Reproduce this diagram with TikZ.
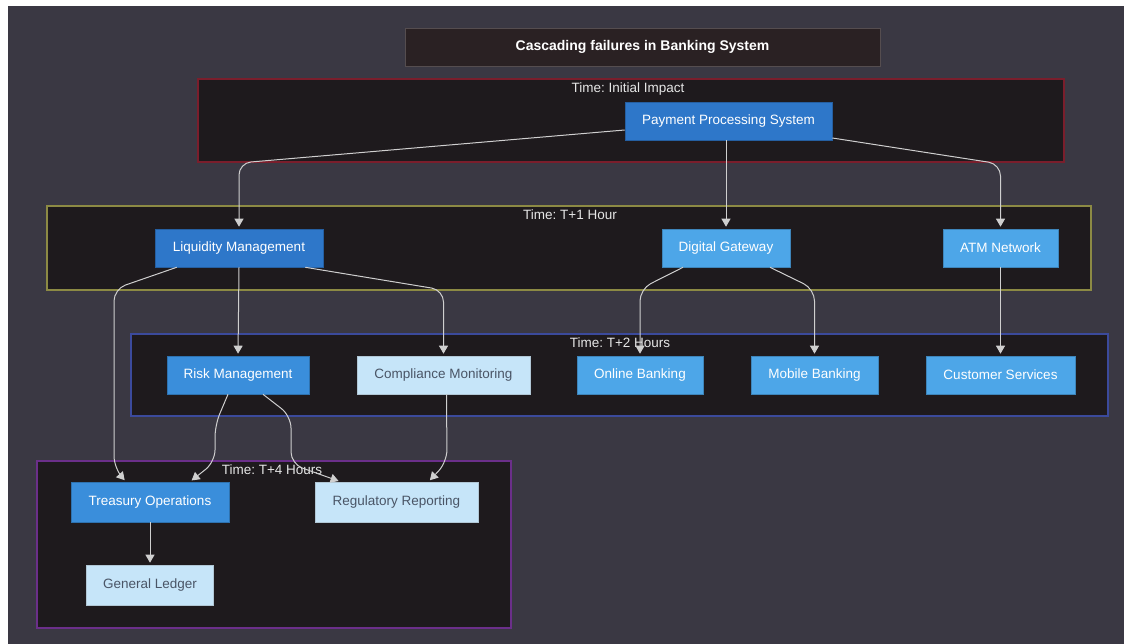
\documentclass[tikz,border=0pt]{standalone}
\usepackage{fontspec}
\setmainfont{Liberation Sans}
\frenchspacing
\usetikzlibrary{arrows.meta}
\definecolor{bgc}{HTML}{3A3843}
\definecolor{clfill}{HTML}{1E1A1D}
\definecolor{titlefill}{HTML}{2A2123}
\definecolor{bred}{HTML}{7A1E2C}
\definecolor{bolive}{HTML}{8C8A44}
\definecolor{bblue}{HTML}{3B4A9C}
\definecolor{bpurple}{HTML}{6B2F8A}
\definecolor{dkblue}{HTML}{2E77C9}
\definecolor{mdblue}{HTML}{3A8EDB}
\definecolor{ltblue}{HTML}{4DA6E8}
\definecolor{pale}{HTML}{C6E5F9}
\definecolor{paletext}{HTML}{4A5566}
\definecolor{edgec}{HTML}{CFCFCF}
\definecolor{labc}{HTML}{E6E6E6}
\tikzset{
  cluster/.style={draw, fill=clfill, line width=1.5pt, inner sep=0pt},
  clabel/.style={text=labc, font=\fontsize{13.5}{15}\selectfont, inner sep=0pt},
  box/.style={inner sep=0pt, minimum height=38pt, font=\fontsize{13.5}{15}\selectfont, line width=0.6pt},
  dkbox/.style={box, fill=dkblue, draw=dkblue!80!black, text=white},
  mdbox/.style={box, fill=mdblue, draw=mdblue!80!black, text=white},
  ltbox/.style={box, fill=ltblue, draw=ltblue!80!black, text=white},
  palebox/.style={box, fill=pale, draw=pale!70!gray, text=paletext},
  edge/.style={draw=edgec, line width=1pt, rounded corners=12pt, -{Triangle[width=9pt,length=8pt]}, shorten >=2pt}
}
\begin{document}
\begin{tikzpicture}[x=1pt,y=-1pt]
\useasboundingbox (0,0) rectangle (1124,644);
\fill[white] (0,0) rectangle (1124,644);
\fill[bgc] (8,6) rectangle (1124,644);

% title
\node[fill=titlefill, draw=titlefill!80!white, line width=0.5pt, minimum width=475pt, minimum height=38pt, inner sep=0pt, text=white, font=\bfseries\fontsize{14}{16}\selectfont] (title) at (642.5,47) {Cascading failures in Banking System};

% clusters
\node[cluster, draw=bred, minimum width=866pt, minimum height=83pt] (c1) at (631,120.5) {};
\node[clabel] (c1l) at (628,89) {Time: Initial Impact};
\node[cluster, draw=bolive, minimum width=1044pt, minimum height=84pt] (c2) at (569,248) {};
\node[clabel] (c2l) at (570,215) {Time: T+1 Hour};
\node[cluster, draw=bblue, minimum width=977pt, minimum height=82pt] (c3) at (619.5,375) {};
\node[clabel] (c3l) at (620,343) {Time: T+2 Hours};
\node[cluster, draw=bpurple, minimum width=474pt, minimum height=167pt] (c4) at (274,544.5) {};
\node[clabel] (c4l) at (272,470) {Time: T+4 Hours};

% nodes
\node[dkbox, minimum width=207pt] (pps) at (728.5,121) {Payment Processing System};
\node[dkbox, minimum width=168pt] (lm) at (239,248) {Liquidity Management};
\node[ltbox, minimum width=128pt] (dg) at (726,248) {Digital Gateway};
\node[ltbox, minimum width=115pt] (atm) at (1000.5,248) {ATM Network};
\node[mdbox, minimum width=142pt] (rm) at (238,375) {Risk Management};
\node[palebox, minimum width=173pt] (cm) at (443.5,375) {Compliance Monitoring};
\node[ltbox, minimum width=126pt] (ob) at (640,375) {Online Banking};
\node[ltbox, minimum width=127pt] (mb) at (814.5,375) {Mobile Banking};
\node[ltbox, minimum width=149pt] (cs) at (1000.5,375) {Customer Services};
\node[mdbox, minimum width=158pt, minimum height=40pt] (to) at (150,502) {Treasury Operations};
\node[palebox, minimum width=163pt, minimum height=40pt] (rr) at (396.5,502) {Regulatory Reporting};
\node[palebox, minimum width=127pt, minimum height=40pt] (gl) at (150,585) {General Ledger};

% edges
\draw[edge] ([yshift=-9pt]pps.west) -- (lm.north |- 0,163) -- (lm.north);
\draw[edge] (dg.north |- pps.south) -- (dg.north);
\draw[edge] ([yshift=-17pt]pps.east) -- (atm.north |- 0,164) -- (atm.north);
\draw[edge] (lm.south) -- (rm.north);
\draw[edge] ([xshift=-18pt]lm.south east) -- (cm.north |- 0,290) -- (cm.north);
\draw[edge] ([xshift=22pt]lm.south west) -- (114,289) -- (114,468) -- ([xshift=-24pt]to.north);
\draw[edge] ([xshift=-43pt]dg.south) -- (ob.north |- 0,289) -- (ob.north);
\draw[edge] ([xshift=44pt]dg.south) -- (mb.north |- 0,289) -- (mb.north);
\draw[edge] (atm.south) -- (cs.north);
\draw[edge] ([xshift=-10pt]rm.south) -- (215,425) -- (215,462) -- ([xshift=40pt]to.north);
\draw[edge] ([xshift=25pt]rm.south) -- (291,416) -- (291,464) -- ([xshift=-56pt]rr.north);
\draw[edge] ([xshift=3pt]cm.south) -- (447,462) -- ([xshift=32pt]rr.north);
\draw[edge] (to.south) -- (gl.north);
\end{tikzpicture}
\end{document}
